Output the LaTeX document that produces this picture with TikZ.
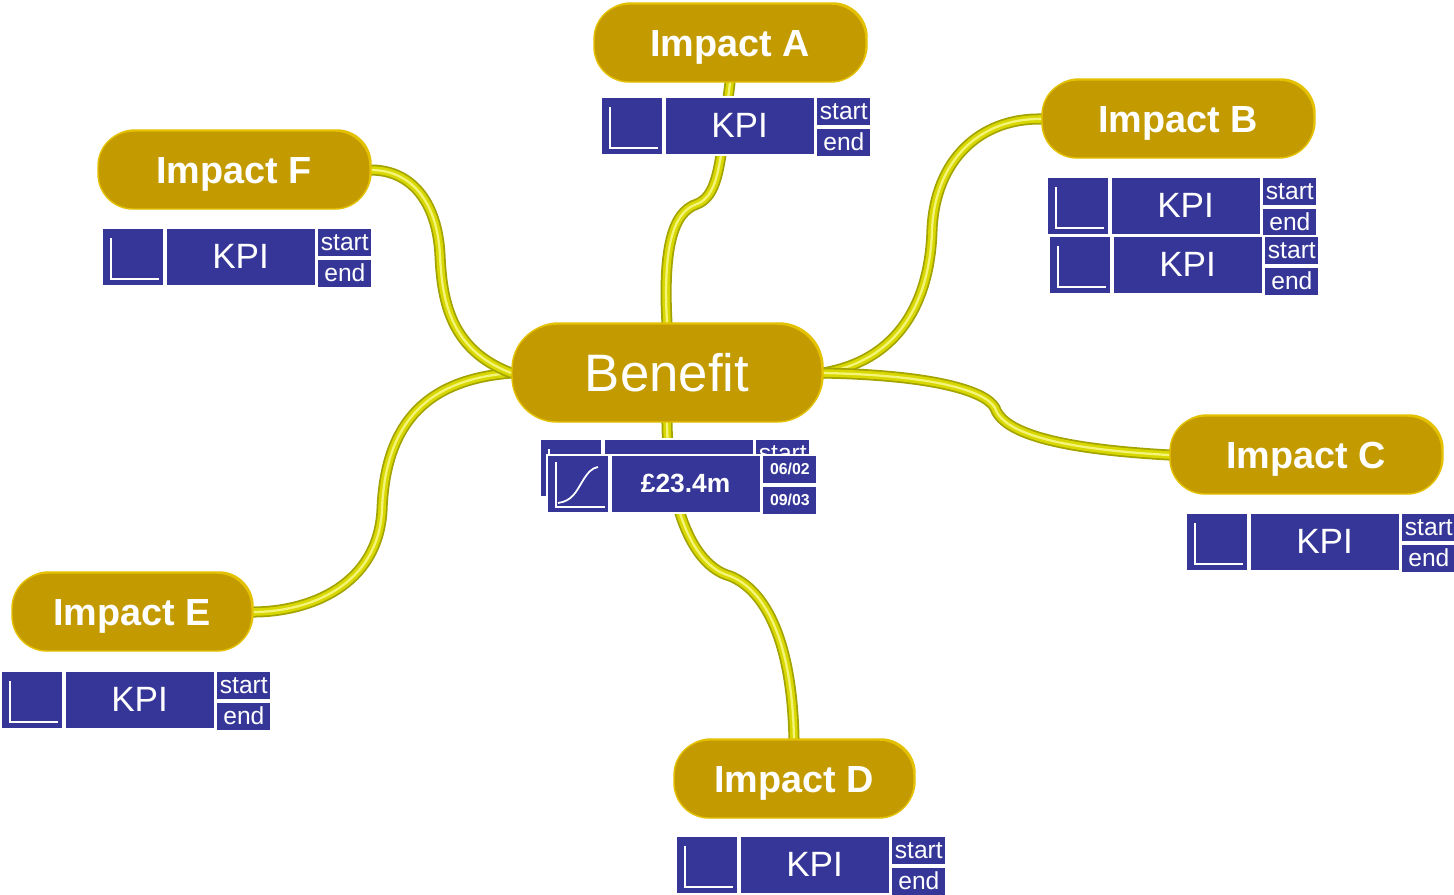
\documentclass[tikz,border=0pt]{standalone}
\usepackage{fontspec}
\setmainfont{Liberation Sans}
\usetikzlibrary{positioning,backgrounds,shadows}

\definecolor{impactgold}{HTML}{C39B00}
\definecolor{impactrim}{HTML}{E3C000}
\definecolor{kpiblue}{HTML}{363699}
\definecolor{tubeolive}{HTML}{A3A300}
\definecolor{tubeyellow}{HTML}{D8D800}
\definecolor{tubeshine}{HTML}{F4F47A}

% one KPI row: icon cell, label cell, start/end cells
\newcommand{\kpirow}[3]{%
  \node[kpiicon, anchor=north west] (#1-icon) at (#2) {};
  \draw[iconline] ([shift={(0.2cm,-0.22cm)}]#1-icon.north west) |- ([shift={(-0.12cm,0.16cm)}]#1-icon.south east);
  \node[kpimain, right=0pt of #1-icon] (#1-main) {#3};
  \node[kpidate, anchor=north west] (#1-start) at (#1-main.north east) {start};
  \node[kpidate, below=0pt of #1-start] (#1-end) {end};
}

\begin{document}
\begin{tikzpicture}[
    x=0.02cm, y=-0.02cm,
    impact/.style={rectangle, rounded corners=0.7cm, fill=impactgold, draw=impactrim, line width=0.8pt,
        minimum width=5.44cm, minimum height=1.56cm, text=white, font=\fontsize{21.5}{24}\selectfont\bfseries,
        text height=15.4pt, text depth=0pt,
        drop shadow={opacity=1, fill=impactrim, shadow xshift=1pt, shadow yshift=1pt}},
    benefit/.style={impact, rounded corners=0.9cm, minimum width=6.2cm, minimum height=1.96cm,
        font=\fontsize{30}{34}\selectfont, text height=21.5pt},
    kpicell/.style={rectangle, fill=kpiblue, draw=white, line width=1pt, inner sep=0pt, text=white},
    kpiicon/.style={kpicell, minimum width=1.24cm, minimum height=1.16cm},
    kpimain/.style={kpicell, minimum width=3cm, minimum height=1.16cm, font=\fontsize{20}{24}\selectfont},
    kpidate/.style={kpicell, minimum width=1.1cm, minimum height=0.58cm, font=\fontsize{14}{16}\selectfont},
    iconline/.style={draw=white, line width=1pt},
    tube/.style={draw=tubeolive, line width=6.3pt, line cap=round,
        postaction={draw=tubeyellow, line width=4.3pt},
        postaction={draw=tubeshine, line width=1.3pt}}
]
    \useasboundingbox (0,0) rectangle (1454,894);

    % Centre
    \node[benefit] (benefit) at (667,373) {Benefit};

    % Impacts
    \node[impact] (impA) at (730,43) {Impact A};
    \node[impact] (impB) at (1178,119) {Impact B};
    \node[impact] (impC) at (1306,455) {Impact C};
    \node[impact, minimum width=4.8cm] (impD) at (794,779) {Impact D};
    \node[impact, minimum width=4.8cm] (impE) at (132,612) {Impact E};
    \node[impact] (impF) at (234,170) {Impact F};

    % KPIs
    \kpirow{kpiA}{600,96}{KPI}
    \kpirow{kpiBa}{1046,176}{KPI}
    \kpirow{kpiBb}{1048,235}{KPI}
    \kpirow{kpiC}{1185,512}{KPI}
    \kpirow{kpiD}{675,835}{KPI}
    \kpirow{kpiE}{0,670}{KPI}
    \kpirow{kpiF}{101,227}{KPI}

    % Benefit value (two stacked rows)
    \kpirow{kpiBen}{539,438}{}
    \node[kpiicon, anchor=north west] (val-icon) at (546,454) {};
    \draw[iconline] ([shift={(0.2cm,-0.16cm)}]val-icon.north west) |- ([shift={(-0.1cm,0.14cm)}]val-icon.south east);
    \draw[iconline] (558,503) .. controls (572,501) and (576,492) .. (582,482) .. controls (588,472) and (592,468) .. (598,467);
    \node[kpimain, right=0pt of val-icon, font=\fontsize{15}{18}\selectfont\bfseries] (val-main) {£23.4m};
    \node[kpidate, anchor=north west, font=\fontsize{9}{11}\selectfont\bfseries] (val-start) at (val-main.north east) {06/02};
    \node[kpidate, below=0pt of val-start, font=\fontsize{9}{11}\selectfont\bfseries] (val-end) {09/03};

    % Connectors
    \begin{scope}[on background layer]
        \fill[white] (0,0) rectangle (1454,894);
        \draw[tube] (benefit.north) .. controls (663,250) and (672,212) .. (697,204)
            .. controls (712,198) and (717,180) .. (721,155) -- (impA.south);
        \draw[tube] (benefit.east) .. controls (900,360) and (930,300) .. (932,230)
            .. controls (935,160) and (980,118) .. (impB.west);
        \draw[tube] (benefit.east) .. controls (930,375) and (985,390) .. (995,408)
            .. controls (1005,438) and (1080,450) .. (impC.west);
        \draw[tube] (benefit.south) .. controls (668,500) and (690,565) .. (730,576)
            .. controls (765,590) and (792,640) .. (impD.north);
        \draw[tube] (benefit.west) .. controls (420,380) and (385,430) .. (382,510)
            .. controls (378,585) and (310,612) .. (impE.east);
        \draw[tube] (benefit.west) .. controls (450,350) and (442,300) .. (440,255)
            .. controls (437,200) and (410,170) .. (impF.east);
    \end{scope}
\end{tikzpicture}
\end{document}
